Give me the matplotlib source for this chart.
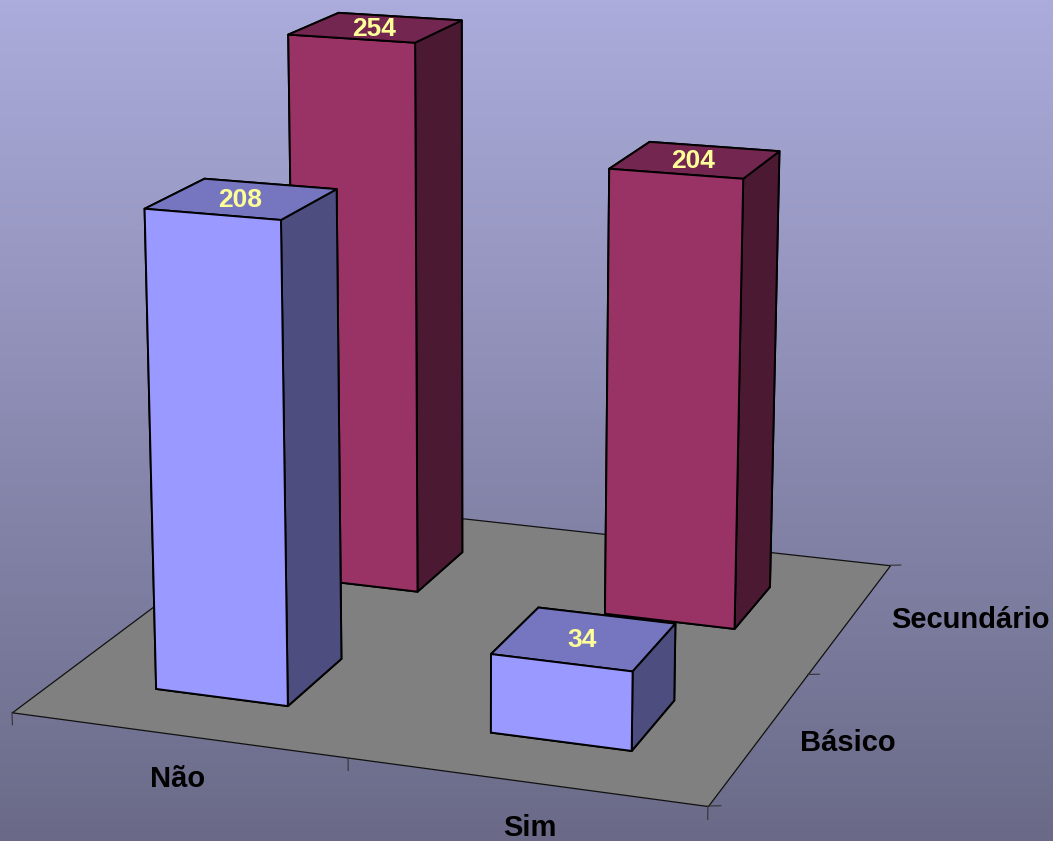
import matplotlib
matplotlib.use("Agg")
import matplotlib.pyplot as plt
import numpy as np
from mpl_toolkits.mplot3d.art3d import Poly3DCollection

plt.rcParams["font.family"] = ["Liberation Sans", "DejaVu Sans"]

# values
answers = ["Não", "Sim"]
levels = ["Básico", "Secundário"]
basico = [208, 34]
secundario = [254, 204]

# front, side, top colours per level
blue = ("#9999ff", "#4d4d80", "#7676c0")
wine = ("#993366", "#4c1933", "#732650")

fig = plt.figure(figsize=(10.53, 8.41), dpi=100)

# background gradient
bg = fig.add_axes([0, 0, 1, 1], zorder=0)
top = np.array([172, 172, 220]) / 255
bottom = np.array([106, 106, 136]) / 255
t = np.linspace(0, 1, 256)[:, None, None]
bg.imshow(top + (bottom - top) * t, aspect="auto", extent=(0, 1, 0, 1))
bg.set_axis_off()

# camera fitted to the reference
L, left, low = 1183, -130.6, -71.5
ax = fig.add_axes([left / 1053, low / 841, L / 1053, L / 841], projection="3d",
                  computed_zorder=False, zorder=1)
ax.set_facecolor("none")
ax.set_axis_off()
ax.set_xlim(0, 2)
ax.set_ylim(0, 2)
ax.set_zlim(0, 300)
ax.set_box_aspect((1, 1.0286, 1.0008))
ax.view_init(elev=14.48, azim=-70.41)
ax.set_proj_type("persp", focal_length=0.554)

# floor
floor = Poly3DCollection([[(0, 0, 0), (2, 0, 0), (2, 2, 0), (0, 2, 0)]],
                         facecolor="#808080", edgecolor="#111111", linewidth=0.9, zorder=1)
ax.add_collection3d(floor)

# tick marks
for x in range(3):
    ax.plot([x, x], [0, 0], [0, -5.5], color="#333333", lw=0.8, zorder=1)
for y in range(3):
    ax.plot([2, 2.031], [y, y + 0.013], [0, 0], color="#333333", lw=0.8, zorder=1)

wx, wy, mx, my = 0.4014, 0.3912, 0.2998, 0.2919


def draw_bar(i, j, h, colors, z):
    front, side, cap = colors
    # order of faces in bar3d: bottom, top, front, back, left, right
    faces = [side, cap, front, side, side, side]
    ax.bar3d(i + mx, j + my, 0, wx, wy, h, color=faces, edgecolor="black",
             linewidth=1.4, shade=False, zorder=z)
    ax.text(i + mx + wx / 2 - 0.006, j + my + wy / 2, h - 0.6, str(h), color="#ffff99", fontsize=19,
            fontweight="bold", ha="center", va="center", zorder=10)


# back row first, then the front row
for i in range(len(answers)):
    draw_bar(i, 1, secundario[i], wine, 2 + i)
for i in range(len(answers)):
    draw_bar(i, 0, basico[i], blue, 4 + i)

# category labels
label_pos = {"Não": (178, 779), "Sim": (530, 828), "Básico": (848, 743), "Secundário": (970, 620)}
for name in answers + levels:
    px, py = label_pos[name]
    fig.text(px / 1053, 1 - py / 841, name, fontsize=21, fontweight="bold", color="black",
             ha="center", va="center", zorder=5)

fig.savefig("out.png", dpi=100)
